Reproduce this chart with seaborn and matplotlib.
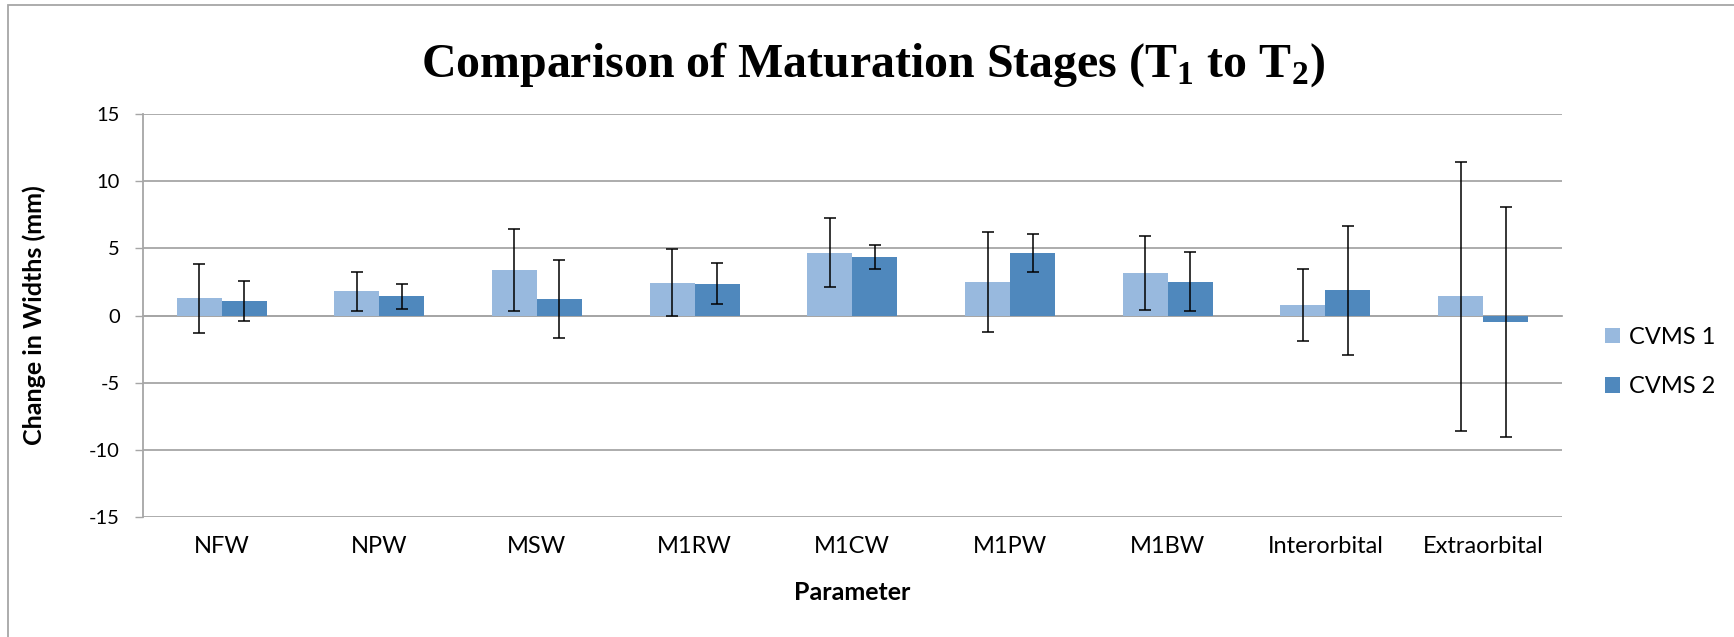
import pandas as pd
import matplotlib.pyplot as plt
import seaborn as sns

# datos
parametros = ["NFW", "NPW", "MSW", "M1RW", "M1CW", "M1PW", "M1BW", "Interorbital", "Extraorbital"]
cvms1 = [1.27, 1.80, 3.40, 2.44, 4.68, 2.50, 3.15, 0.77, 1.42]
cvms2 = [1.06, 1.44, 1.24, 2.38, 4.37, 4.64, 2.53, 1.87, -0.49]
err1 = [2.55, 1.45, 3.05, 2.48, 2.57, 3.72, 2.75, 2.68, 10.02]
err2 = [1.50, 0.94, 2.88, 1.54, 0.90, 1.42, 2.21, 4.81, 8.58]
grupos = ["CVMS 1", "CVMS 2"]
colores = ["#98B9DE", "#4F88BD"]
yticks = [-15, -10, -5, 0, 5, 10, 15]

df = pd.DataFrame({
    "Parameter": parametros * 2,
    "Change": cvms1 + cvms2,
    "Stage": [grupos[0]] * len(parametros) + [grupos[1]] * len(parametros),
})

sns.set_style("white")
plt.rcParams["font.family"] = ["Lato", "DejaVu Sans"]
plt.rcParams["text.color"] = "black"
plt.rcParams["axes.labelcolor"] = "black"
plt.rcParams["axes.unicode_minus"] = False
plt.rcParams["mathtext.fontset"] = "custom"
plt.rcParams["mathtext.rm"] = "Liberation Serif:bold"
plt.rcParams["mathtext.bf"] = "Liberation Serif:bold"

gris = "#a6a6a6"
fig = plt.figure(figsize=(17.34, 6.37), dpi=100)
ax = fig.add_axes([0.0823, 0.1884, 0.8185, 0.6326])

sns.barplot(data=df, x="Parameter", y="Change", hue="Stage", palette=colores,
            width=0.57, linewidth=0, saturation=1, errorbar=None, ax=ax, zorder=3)

# barras de error (desviaciones)
for cont, medias, errs in zip(ax.containers, [cvms1, cvms2], [err1, err2]):
    xs = [b.get_x() + b.get_width() / 2 for b in cont]
    ax.errorbar(xs, medias, yerr=errs, fmt="none", ecolor="black",
                elinewidth=1.1, capsize=4.3, capthick=1.1, zorder=4)

ax.set_xlim(-0.5, len(parametros) - 0.5)
ax.set_ylim(-15, 15)
ax.set_yticks(yticks)
ax.tick_params(axis="y", labelsize=14.5, length=5.5, width=1, color=gris, labelcolor="black",
               pad=11, direction="out", left=True)
ax.yaxis.grid(True, color=gris, linewidth=1.3, zorder=0)
ax.set_axisbelow(True)

for s in ["top", "right"]:
    ax.spines[s].set_visible(False)
ax.spines["left"].set_color(gris)
ax.spines["left"].set_linewidth(1.3)
ax.spines["bottom"].set_position(("data", 0))
ax.spines["bottom"].set_color(gris)
ax.spines["bottom"].set_linewidth(1.3)

# separadores de categoria en el eje del cero
ax.set_xticks([i - 0.5 for i in range(len(parametros) + 1)], minor=True)
ax.tick_params(axis="x", which="minor", length=6, width=1, color=gris, direction="out")
ax.tick_params(axis="x", which="major", length=0, labelbottom=False)

sec = ax.secondary_xaxis("bottom")
sec.set_xticks(range(len(parametros)), labels=parametros)
sec.tick_params(length=0, labelsize=17, labelcolor="black", pad=14)
sec.spines["bottom"].set_visible(False)

ax.set_xlabel("")
ax.set_ylabel("Change in Widths (mm)", fontsize=18, fontweight="bold", color="black")
ax.yaxis.set_label_coords(-0.068, 0.5)

fig.text(852 / 1734, 1 - 593 / 637, "Parameter", fontsize=18, fontweight="bold",
         color="black", ha="center", va="center")

fig.text(0.5035, 1 - 77 / 637,
         r"Comparison of Maturation Stages (T$_\mathbf{1}$ to T$_\mathbf{2}$)",
         fontsize=34.5, family="Liberation Serif", fontweight="bold", color="black",
         ha="center", va="baseline")

handles = ax.get_legend().legend_handles
ax.get_legend().remove()
fig.legend(handles, grupos, loc="center left", bbox_to_anchor=(1605 / 1734, 1 - 362 / 637),
           frameon=False, fontsize=17, handlelength=0.65, handleheight=0.65,
           handletextpad=0.35, labelspacing=1.2, borderpad=0, borderaxespad=0,
           labelcolor="black")

# marco del grafico
marco = plt.Rectangle((8 / 1734, -0.1), 1.2, 1 - 5 / 637 + 0.1, transform=fig.transFigure,
                      fill=False, edgecolor=gris, linewidth=1.3)
fig.patches.append(marco)

plt.savefig("out.png", dpi=100)
